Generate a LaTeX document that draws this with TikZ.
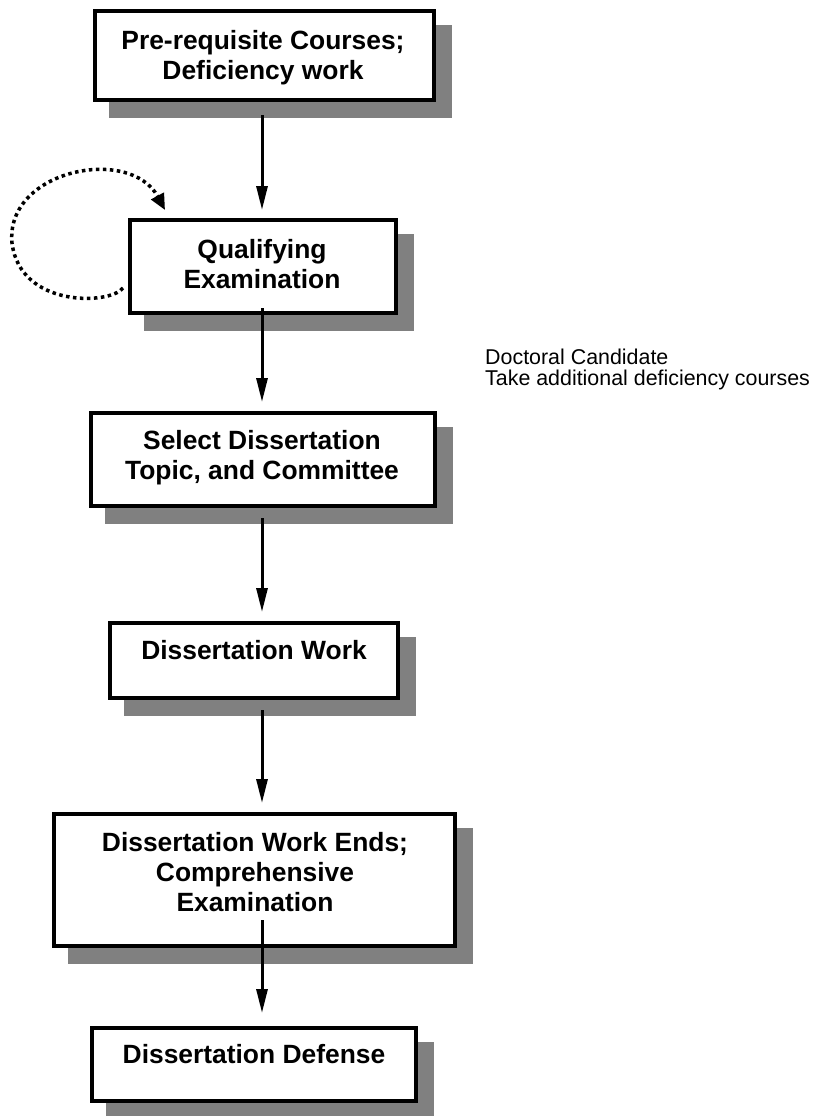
\documentclass[tikz,border=0pt]{standalone}
\usepackage{fontspec}
\setmainfont{Liberation Sans}
\usepackage{tikz}
\usetikzlibrary{arrows.meta,shadows,calc}

\begin{document}
\begin{tikzpicture}[x=1pt,y=-1pt,
 stage/.style={draw,line width=4pt,fill=white,inner sep=0pt,
  drop shadow={shadow xshift=16pt,shadow yshift=-16pt,opacity=1,fill=black!50,draw=black!50}},
 stagetext/.style={font=\fontsize{26.4}{30}\selectfont\bfseries,align=center,inner sep=0pt},
 note/.style={font=\fontsize{21.4}{21}\selectfont,align=left,inner sep=0pt},
 flow/.style={line width=3pt,-{Triangle[length=24pt,width=11pt]}},
 retry/.style={line width=3.5pt,dash pattern=on 3.5pt off 3.5pt,-{Triangle[length=16pt,width=14pt]}}]
 \useasboundingbox (0,0) rectangle (820,1116);
 \node[stage,minimum width=339pt,minimum height=89pt] (b1) at (264.5,55.5) {};
 \node[stage,minimum width=266pt,minimum height=93pt] (b2) at (263,266.5) {};
 \node[stage,minimum width=344pt,minimum height=93pt] (b3) at (263,459.5) {};
 \node[stage,minimum width=288pt,minimum height=75pt] (b4) at (254,660.5) {};
 \node[stage,minimum width=401pt,minimum height=132pt] (b5) at (254.5,880) {};
 \node[stage,minimum width=324pt,minimum height=73pt] (b6) at (254,1064.5) {};
 \node[stagetext] (t1) at (263,57.5) {Pre-requisite Courses;\\Deficiency work};
 \node[stagetext] (t2) at (262,264) {Qualifying\\Examination};
 \node[stagetext] (t3) at (262,458) {Select Dissertation\\Topic, and Committee};
 \node[stagetext] (t4) at (254,650.5) {Dissertation Work};
 \node[stagetext] (t5) at (255,872.5) {Dissertation Work Ends;\\Comprehensive\\Examination};
 \node[stagetext] (t6) at (254,1054) {Dissertation Defense};
 \node[note,anchor=north west] (cand) at (485,348.5) {Doctoral Candidate\\Take additional deficiency courses};
 \coordinate (spine) at (262,0);
 \draw[flow] ($(spine |- b1.south)+(0,13)$) -- ($(spine |- b2.north)+(0,-8)$);
 \draw[flow] ($(spine |- b2.south)+(0,-7)$) -- ($(spine |- b3.north)+(0,-9)$);
 \draw[flow] ($(spine |- b3.south)+(0,10)$) -- ($(spine |- b4.north)+(0,-9)$);
 \draw[flow] ($(spine |- b4.south)+(0,10)$) -- ($(spine |- b5.north)+(0,-9)$);
 \draw[flow] ($(spine |- b5.south)+(0,-28)$) -- ($(spine |- b6.north)+(0,-13)$);
 \draw[retry] ($(b2.west)+(-5,21.5)$) .. controls (110,305) and (20,308) .. (12,243)
   .. controls (5,170) and (130,145) .. ($(b2.north west)+(37,-8)$);
\end{tikzpicture}
\end{document}
